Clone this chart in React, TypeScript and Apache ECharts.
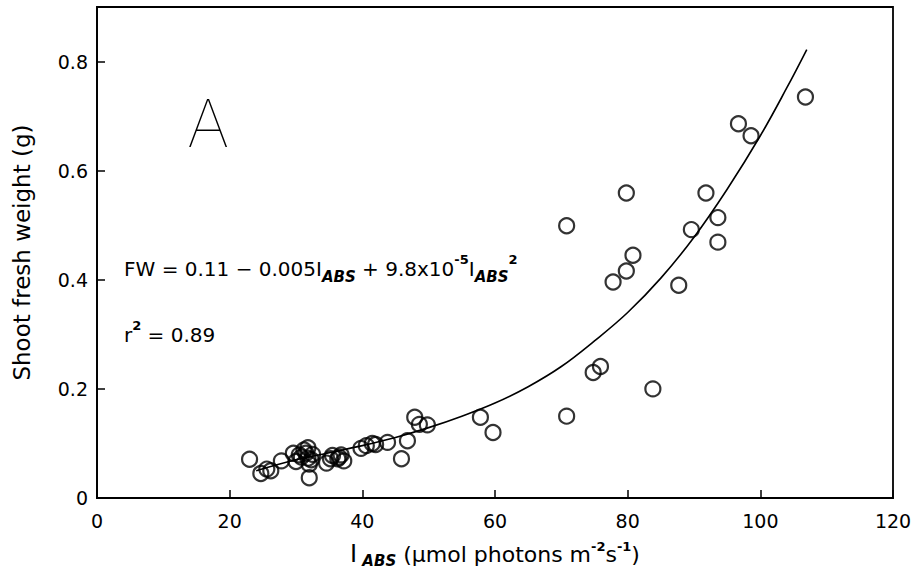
import React, { useEffect, useRef } from "react";
import * as echarts from "echarts";

// Observed points: light absorbed (I_ABS) vs shoot fresh weight (g)
const obsX = [
  23, 24.7, 25.6, 26.2, 27.8, 29.6, 30, 30.8, 31.2, 31.8, 31.8, 32, 32, 32.5,
  30.5, 31.5, 32.3, 34.6, 35.2, 35.5, 36.3, 36.5, 36.8, 37.2, 39.8, 40.6, 41.5,
  42, 43.8, 45.9, 46.8, 47.9, 48.6, 49.8, 57.8, 59.7, 70.8, 70.8, 74.8, 75.9,
  77.8, 79.8, 79.8, 80.8, 83.8, 87.7, 89.6, 91.8, 93.6, 93.6, 96.7, 98.6, 106.8,
];
const obsY = [
  0.071, 0.045, 0.053, 0.05, 0.068, 0.082, 0.067, 0.075, 0.088, 0.092, 0.073,
  0.062, 0.037, 0.08, 0.079, 0.082, 0.07, 0.064, 0.072, 0.078, 0.072, 0.075,
  0.079, 0.068, 0.091, 0.096, 0.1, 0.098, 0.102, 0.072, 0.105, 0.148, 0.135,
  0.134, 0.148, 0.12, 0.15, 0.499, 0.23, 0.241, 0.396, 0.416, 0.559, 0.445, 0.2,
  0.39, 0.492, 0.559, 0.514, 0.469, 0.686, 0.664, 0.735,
];

// Fitted curve
const fitX = [24, 30, 35, 40, 45, 50, 55, 60, 65, 70, 75, 80, 85, 90, 95, 100, 104, 107];
const fitY = [
  0.05, 0.07, 0.083, 0.096, 0.111, 0.129, 0.15, 0.174, 0.204, 0.241, 0.288,
  0.34, 0.403, 0.478, 0.566, 0.664, 0.752, 0.822,
];

const xTicks = [0, 20, 40, 60, 80, 100, 120];
const yTicks = [0, 0.2, 0.4, 0.6, 0.8];

const FONT = "DejaVu Sans";

export default function App() {
  const ref = useRef<HTMLDivElement>(null);
  useEffect(() => {
    if (!ref.current) return;
    const chart = echarts.init(ref.current, null, { renderer: "svg" });
    const scatter = obsX.map((x, i) => [x, obsY[i]]);
    const fit = fitX.map((x, i) => [x, fitY[i]]);
    const supStyle = {
      fontFamily: FONT,
      fontSize: 13,
      fontWeight: "bold",
      color: "#000",
      fill: "#000",
      lineHeight: 14,
      verticalAlign: "top",
    };
    const subStyle = {
      fontFamily: FONT,
      fontSize: 15,
      fontStyle: "italic",
      fontWeight: "bold",
      color: "#000",
      fill: "#000",
      lineHeight: 16,
      verticalAlign: "bottom",
    };
    chart.setOption({
      animation: false,
      backgroundColor: "#fff",
      grid: {
        left: 97,
        right: 19,
        top: 7,
        bottom: 79,
        containLabel: false,
        outerBoundsMode: "none",
        show: true,
        borderColor: "#000",
        borderWidth: 1.8,
        backgroundColor: "transparent",
      },
      xAxis: {
        type: "value",
        min: xTicks[0],
        max: xTicks[xTicks.length - 1],
        interval: 20,
        splitLine: { show: false },
        axisLine: { lineStyle: { color: "#000", width: 1.8 } },
        axisTick: { inside: true, length: 8, lineStyle: { color: "#000", width: 1.5 } },
        axisLabel: {
          color: "#000",
          fontFamily: FONT,
          fontSize: 19,
          margin: 13,
        },
        name:
          "{i|I}{sub| ABS} {n|(μmol photons m}{sup|-2}{n|s}{sup|-1}{n|)}",
        nameLocation: "middle",
        nameGap: 42,
        nameTextStyle: {
          color: "#000",
          fontFamily: FONT,
          fontSize: 22,
          rich: {
            i: { fontFamily: FONT, fontSize: 24, color: "#000", lineHeight: 28 },
            n: { fontFamily: FONT, fontSize: 22, color: "#000", lineHeight: 28 },
            sub: subStyle,
            sup: supStyle,
          },
        },
      },
      yAxis: {
        type: "value",
        min: 0,
        max: 0.9,
        interval: 0.2,
        splitLine: { show: false },
        axisLine: { lineStyle: { color: "#000", width: 1.8 } },
        axisTick: { inside: true, length: 8, lineStyle: { color: "#000", width: 1.5 } },
        axisLabel: {
          color: "#000",
          fontFamily: FONT,
          fontSize: 19,
          margin: 9,
          showMaxLabel: false,
          formatter: (v: number) =>
            yTicks.some((t) => Math.abs(t - v) < 1e-6) ? (v === 0 ? "0" : v.toFixed(1)) : "",
        },
        name: "Shoot fresh weight (g)",
        nameLocation: "middle",
        nameGap: 64,
        nameTextStyle: { color: "#000", fontFamily: FONT, fontSize: 23 },
      },
      graphic: [
        {
          type: "text",
          left: 187,
          top: 90,
          style: {
            text: "A",
            fontFamily: "Inter",
            fontWeight: 100,
            fontSize: 66,
            fill: "#000",
          },
        },
        {
          type: "text",
          left: 124,
          top: 253,
          style: {
            text:
              "{n|FW = 0.11 − 0.005I}{sub|ABS}{n| + 9.8x10}{sup|-5}{n|I}{sub|ABS}{sup|2}",
            fill: "#000",
            rich: {
              n: { fontFamily: FONT, fontSize: 20, fill: "#000", lineHeight: 31 },
              sub: subStyle,
              sup: supStyle,
            },
          },
        },
        {
          type: "text",
          left: 124,
          top: 319,
          style: {
            text: "{n|r}{sup|2}{n| = 0.89}",
            fill: "#000",
            rich: {
              n: { fontFamily: FONT, fontSize: 20, fill: "#000", lineHeight: 31 },
              sup: supStyle,
            },
          },
        },
      ],
      series: [
        {
          type: "line",
          data: fit,
          smooth: 0.4,
          showSymbol: false,
          lineStyle: { color: "#000", width: 1.6 },
          z: 2,
        },
        {
          type: "scatter",
          data: scatter,
          symbol: "circle",
          symbolSize: 15,
          itemStyle: { color: "transparent", borderColor: "#000", borderWidth: 2.2 },
          z: 3,
        },
      ],
    });
    return () => chart.dispose();
  }, []);
  return (
    <div
      ref={ref}
      style={{ position: "absolute", left: 0, top: 0, width: 912, height: 577 }}
    />
  );
}
